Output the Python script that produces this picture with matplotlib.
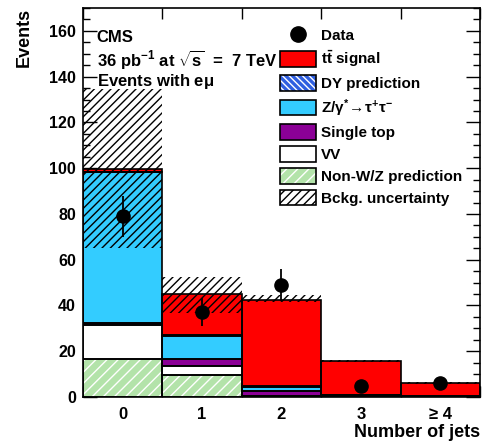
import numpy as np
import matplotlib
matplotlib.use("Agg")
import matplotlib.pyplot as plt
from matplotlib.patches import Patch
from matplotlib.lines import Line2D
from matplotlib.ticker import MultipleLocator, FixedLocator

plt.rcParams['font.family'] = ['Liberation Sans', 'DejaVu Sans']
plt.rcParams['font.weight'] = 'bold'
plt.rcParams['axes.labelweight'] = 'bold'
plt.rcParams['mathtext.fontset'] = 'custom'
plt.rcParams['mathtext.rm'] = 'Liberation Sans:bold'
plt.rcParams['mathtext.it'] = 'Liberation Sans:bold'
plt.rcParams['mathtext.bf'] = 'Liberation Sans:bold'
plt.rcParams['hatch.linewidth'] = 1.0

# ---- data ----
categories = ['0', '1', '2', '3', '≥ 4']
non_wz   = [16.4, 9.5, 0.3, 0.0, 0.0]
vv       = [15.0, 3.9, 0.3, 0.2, 0.1]
single_t = [0.8, 3.0, 2.0, 0.5, 0.2]
z_tautau = [66.0, 10.3, 1.9, 0.3, 0.1]
dy_pred  = [0.3, 0.2, 0.1, 0.0, 0.0]
ttbar    = [1.2, 18.1, 37.8, 14.8, 5.7]
unc_low  = [65.0, 36.5, 41.5, 15.5, 5.8]
unc_high = [134.6, 52.6, 44.7, 16.3, 6.4]
data     = [79, 37, 49, 5, 6]

x = np.arange(len(categories))
fig = plt.figure(figsize=(4.82, 4.41), dpi=100)
ax = fig.add_axes([0.172, 0.0998, 0.824, 0.882])

components = [
    (non_wz,   '#b3e3aa', 'white', '///',   'Non-W/Z prediction'),
    (vv,       'white',   None,    None,   'VV'),
    (single_t, '#8b0096', None,    None,   'Single top'),
    (z_tautau, '#33ccff', None,    None,   r'Z/$\gamma^{*}\!\rightarrow\!\tau^{+}\tau^{-}$'),
    (dy_pred,  '#2f5fe0', 'white', '\\\\\\\\\\', 'DY prediction'),
    (ttbar,    '#ff0000', None,    None,   r't$\bar{\rm t}$ signal'),
]
bottom = np.zeros(len(x))
handles = {}
for vals, fc, hc, hatch, lab in components:
    vals = np.array(vals)
    if hatch:
        ax.bar(x, vals, bottom=bottom, width=1.0, color=fc, edgecolor=hc,
               hatch=hatch, linewidth=0, zorder=2)
    else:
        ax.bar(x, vals, bottom=bottom, width=1.0, color=fc, linewidth=0, zorder=2)
    ax.bar(x, vals, bottom=bottom, width=1.0, fill=False, edgecolor='black',
           linewidth=1.2, zorder=3)
    bottom = bottom + vals
    if hatch:
        handles[lab] = (Patch(facecolor=fc, edgecolor=hc, hatch=hatch, linewidth=0),
                        Patch(fill=False, edgecolor='black', linewidth=1.2))
    else:
        handles[lab] = Patch(facecolor=fc, edgecolor='black', linewidth=1.2)

# uncertainty band
ulo = np.array(unc_low)
uhi = np.array(unc_high)
ax.bar(x, uhi - ulo, bottom=ulo, width=1.0, fill=False, hatch='////',
       edgecolor='black', linewidth=0, zorder=4)

# data
ax.errorbar(x, data, yerr=np.sqrt(data), fmt='o', color='black', markersize=9.5,
            elinewidth=1.3, capsize=0, zorder=6)

ax.set_xlim(-0.5, 4.5)
ax.set_ylim(0, 170)

# ticks
ax.xaxis.set_major_locator(FixedLocator(x))
ax.set_xticklabels(categories, fontsize=12)
ax.tick_params(axis='x', which='major', length=0, pad=7)
ax.xaxis.set_minor_locator(FixedLocator(np.arange(-0.5, 4.6, 1.0)))
ax.tick_params(axis='x', which='minor', length=8, width=1, direction='in', top=True, bottom=True)
ax.yaxis.set_major_locator(MultipleLocator(20))
ax.yaxis.set_minor_locator(MultipleLocator(5))
ax.tick_params(axis='y', which='major', length=10, width=1, direction='in', left=True, right=True,
               labelsize=11.5, pad=5)
ax.tick_params(axis='y', which='minor', length=5, width=1, direction='in', left=True, right=True)
for s in ax.spines.values():
    s.set_linewidth(1.2)

ax.set_ylabel('Events', loc='top', fontsize=13, labelpad=12)
ax.set_xlabel('Number of jets', loc='right', fontsize=13, labelpad=2)

# text
ax.text(0.035, 0.925, 'CMS', transform=ax.transAxes, fontsize=12, va='center')
ax.text(0.035, 0.868, r'36 pb$^{-1}$ at $\sqrt{\rm s}$  =  7 TeV', transform=ax.transAxes,
        fontsize=12, va='center')
ax.text(0.035, 0.812, r'Events with e$\mu$', transform=ax.transAxes, fontsize=12, va='center')

# legend
order = [r't$\bar{\rm t}$ signal', 'DY prediction',
         r'Z/$\gamma^{*}\!\rightarrow\!\tau^{+}\tau^{-}$', 'Single top', 'VV',
         'Non-W/Z prediction']
h = [Line2D([], [], marker='o', color='black', linestyle='none', markersize=11)]
labs = ['Data']
for o in order:
    h.append(handles[o]); labs.append(o)
h.append(Patch(facecolor='white', edgecolor='black', hatch='////', linewidth=1.2))
labs.append('Bckg. uncertainty')
leg = ax.legend(h, labs, loc='upper left', bbox_to_anchor=(0.48, 0.966), frameon=False,
                fontsize=11, handlelength=2.4, handleheight=1.2, labelspacing=0.38,
                handletextpad=0.3, borderaxespad=0)

fig.savefig('out.png', dpi=100)
